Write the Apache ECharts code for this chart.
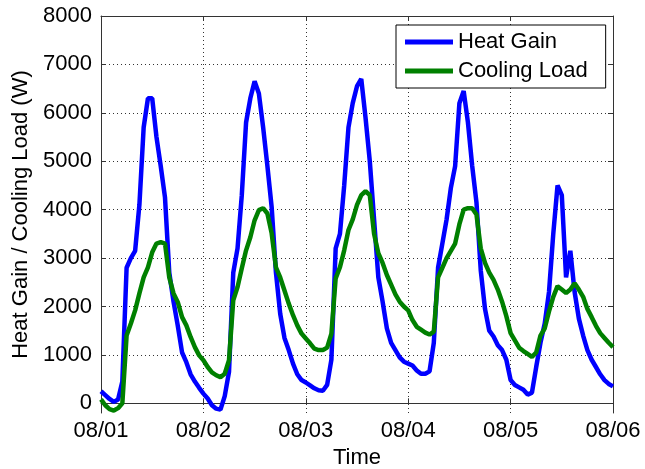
<!DOCTYPE html>
<html>
<head>
<meta charset="utf-8">
<script src="https://cdn.jsdelivr.net/npm/echarts@6/dist/echarts.min.js"></script>
<style>html,body{margin:0;padding:0;background:#fff;}#c{width:645px;height:469px;}</style>
</head>
<body>
<div id="c"></div>
<script>
// x tick labels (one per day, hourly samples in between)
const dayLabels = ['08/01', '08/02', '08/03', '08/04', '08/05', '08/06'];
const yTicks = [0, 1000, 2000, 3000, 4000, 5000, 6000, 7000, 8000];

// Heat Gain (W), hourly, per day
const heatGainDay1 = [250,170,90,30,80,450,2800,3000,3150,4100,5700,6300,6300,5500,4900,4250,2700,2100,1600,1050,850,600,450,320];
const heatGainDay2 = [200,100,-40,-110,-130,150,650,2700,3200,4300,5800,6300,6650,6400,5700,4900,4050,2700,1850,1350,1100,820,600,480];
const heatGainDay3 = [430,370,310,270,260,380,900,3200,3500,4500,5700,6200,6550,6700,5900,5000,3800,2600,2100,1550,1250,1100,950,860];
const heatGainDay4 = [820,780,680,610,610,660,1250,2800,3300,3800,4450,4900,6200,6450,5800,4900,4150,2750,1950,1500,1380,1200,1100,900];
const heatGainDay5 = [480,380,330,280,180,220,750,1250,1650,2300,3500,4500,4300,2600,3150,2300,1750,1400,1100,900,750,600,480,400,350];

// Cooling Load (W), hourly, per day
const coolingLoadDay1 = [80,-40,-120,-150,-100,0,1400,1650,1920,2270,2600,2810,3120,3300,3330,3300,2600,2270,2090,1780,1610,1370,1160,990];
const coolingLoadDay2 = [890,750,640,580,540,610,890,2130,2400,2790,3160,3430,3780,3990,4030,3920,3510,2810,2600,2330,2060,1820,1610,1440];
const coolingLoadDay3 = [1340,1240,1130,1100,1100,1150,1440,2580,2810,3160,3580,3800,4100,4300,4380,4300,3500,3100,2900,2650,2450,2250,2100,2000];
const coolingLoadDay4 = [1920,1720,1580,1520,1460,1420,1480,2600,2800,3000,3150,3300,3700,4000,4030,4030,3900,3200,2900,2700,2550,2350,2100,1800];
const coolingLoadDay5 = [1450,1300,1150,1080,1020,960,1050,1400,1550,1900,2200,2420,2350,2280,2350,2480,2350,2200,1950,1780,1600,1450,1350,1250,1160];

const heatGain = [].concat(heatGainDay1, heatGainDay2, heatGainDay3, heatGainDay4, heatGainDay5);
const coolingLoad = [].concat(coolingLoadDay1, coolingLoadDay2, coolingLoadDay3, coolingLoadDay4, coolingLoadDay5);

const toPairs = arr => arr.map((v, i) => [i, v]);
const FONT = 'Liberation Sans, Arial, sans-serif';
const AX = '#333333';

const chart = echarts.init(document.getElementById('c'), null, {renderer: 'canvas'});
chart.setOption({
  animation: false,
  backgroundColor: '#ffffff',
  textStyle: {fontFamily: FONT},
  grid: {left: 101, right: 32, top: 16, bottom: 56, containLabel: false, outerBoundsMode: 'none'},
  legend: {
    left: 396, top: 25, orient: 'vertical',
    backgroundColor: '#ffffff', borderColor: '#000000', borderWidth: 1,
    padding: [5, 18, 5, 9], itemGap: 5,
    itemWidth: 48, itemHeight: 5, icon: 'rect',
    textStyle: {fontSize: 22, color: '#000', fontFamily: FONT, lineHeight: 24},
    data: ['Heat Gain', 'Cooling Load']
  },
  xAxis: [{
    type: 'value', min: 0, max: 120, interval: 24,
    name: 'Time', nameLocation: 'middle', nameGap: 33,
    nameTextStyle: {fontSize: 22, color: '#000', fontFamily: FONT},
    axisLine: {show: true, lineStyle: {color: AX, width: 1}},
    axisTick: {show: true, inside: true, length: 5, lineStyle: {color: AX}},
    axisLabel: {fontSize: 22, color: '#000', margin: 7, fontFamily: FONT,
      formatter: v => dayLabels[Math.round(v / 24)]},
    splitLine: {show: true, lineStyle: {color: AX, type: [1, 3], width: 1}}
  }, {
    type: 'value', min: 0, max: 120, interval: 24, position: 'top',
    axisLine: {show: true, onZero: false, lineStyle: {color: AX, width: 1}},
    axisTick: {show: true, inside: true, length: 5, lineStyle: {color: AX}},
    axisLabel: {show: false}, splitLine: {show: false}
  }],
  yAxis: [{
    type: 'value', min: -200, max: 8000,
    name: 'Heat Gain / Cooling Load (W)', nameLocation: 'middle', nameGap: 57,
    nameTextStyle: {fontSize: 22, color: '#000', fontFamily: FONT},
    axisLine: {show: true, onZero: false, lineStyle: {color: AX, width: 1}},
    axisTick: {show: true, inside: true, length: 5, customValues: yTicks, lineStyle: {color: AX}},
    axisLabel: {fontSize: 22, color: '#000', margin: 9, customValues: yTicks, fontFamily: FONT,
      formatter: v => String(v)},
    splitLine: {show: true, lineStyle: {color: AX, type: [1, 3], width: 1}}
  }, {
    type: 'value', min: -200, max: 8000, position: 'right',
    axisLine: {show: true, onZero: false, lineStyle: {color: AX, width: 1}},
    axisTick: {show: true, inside: true, length: 5, customValues: yTicks, lineStyle: {color: AX}},
    axisLabel: {show: false}, splitLine: {show: false}
  }],
  series: [{
    name: 'Heat Gain', type: 'line', xAxisIndex: 0, yAxisIndex: 0,
    data: toPairs(heatGain), showSymbol: false, symbol: 'none',
    itemStyle: {color: '#0000ff'},
    lineStyle: {color: '#0000ff', width: 4.5}, z: 3
  }, {
    name: 'Cooling Load', type: 'line', xAxisIndex: 0, yAxisIndex: 0,
    data: toPairs(coolingLoad), showSymbol: false, symbol: 'none',
    itemStyle: {color: '#008000'},
    lineStyle: {color: '#008000', width: 4.5}, z: 4
  }]
});
</script>
</body>
</html>
